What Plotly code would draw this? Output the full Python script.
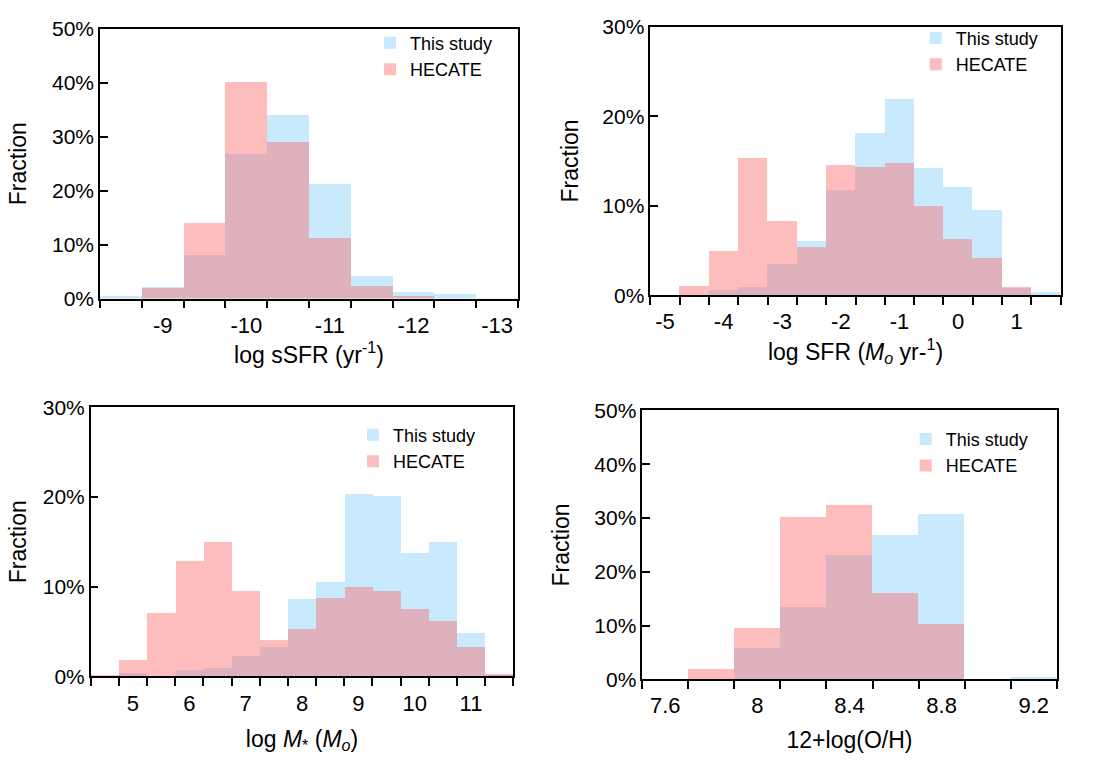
import plotly.graph_objects as go

# ---------------- data (percent of sample per bin) ----------------
ssfr_centers = [-8.5, -9, -9.5, -10, -10.5, -11, -11.5, -12, -12.5, -13]
ssfr_this = [0.5, 2.2, 8.1, 26.9, 34.0, 21.2, 4.2, 1.3, 0.9, 0.2]
ssfr_hecate = [0, 1.9, 14.1, 40.2, 29.0, 11.3, 2.4, 0.5, 0, 0]
ssfr_ticks = [-9, -10, -11, -12, -13]

sfr_centers = [-5, -4.5, -4, -3.5, -3, -2.5, -2, -1.5, -1, -0.5, 0, 0.5, 1, 1.5]
sfr_this = [0, 0, 0.7, 1.0, 3.5, 6.1, 11.8, 18.2, 22.0, 14.3, 12.1, 9.6, 0.9, 0.4]
sfr_hecate = [0, 1.1, 5.0, 15.4, 8.4, 5.4, 14.6, 14.4, 14.8, 10.0, 6.3, 4.2, 1.0, 0]
sfr_ticks = [-5, -4, -3, -2, -1, 0, 1]

mass_centers = [4.5, 5, 5.5, 6, 6.5, 7, 7.5, 8, 8.5, 9, 9.5, 10, 10.5, 11, 11.5]
mass_this = [0, 0.35, 0, 0.65, 0.95, 2.2, 3.3, 8.6, 10.5, 20.3, 20.1, 13.7, 15.0, 4.8, 0.1]
mass_hecate = [0.15, 1.8, 7.0, 12.8, 15.0, 9.5, 4.0, 5.3, 8.7, 9.9, 9.5, 7.5, 6.2, 3.2, 0.25]
mass_ticks = [5, 6, 7, 8, 9, 10, 11]

oh_centers = [7.6, 7.8, 8.0, 8.2, 8.4, 8.6, 8.8, 9.0, 9.2]
oh_this = [0, 0, 5.8, 13.4, 23.0, 26.8, 30.7, 0, 0.4]
oh_hecate = [0, 1.9, 9.4, 30.1, 32.4, 16.0, 10.1, 0, 0]
oh_ticks = [7.6, 8.0, 8.4, 8.8, 9.2]
oh_ticktext = ["7.6", "8", "8.4", "8.8", "9.2"]

series_names = ["This study", "HECATE"]

# ---------------- style ----------------
W, H = 1095, 774
FONT = "Liberation Sans, Arial, Helvetica, sans-serif"
BLUE = "rgba(135,206,250,0.45)"
RED = "rgba(250,108,108,0.45)"

panels = [
    dict(centers=ssfr_centers, a=ssfr_this, b=ssfr_hecate, width=0.5,
         xrange=[-8.25, -13.25], tickvals=ssfr_ticks, ticktext=[str(t) for t in ssfr_ticks],
         yrange=[0, 50], xtitle="log sSFR (yr<sup>-1</sup>)",
         box=(100, 518, 17.3, 295.3), leg=(396, 29), ystand=19, xstand=10),
    dict(centers=sfr_centers, a=sfr_this, b=sfr_hecate, width=0.5,
         xrange=[-5.25, 1.75], tickvals=sfr_ticks, ticktext=[str(t) for t in sfr_ticks],
         yrange=[0, 30], xtitle="log SFR (<i>M<sub>o</sub></i> yr-<sup>1</sup>)",
         box=(650.3, 1060.7, 15, 292), leg=(941.7, 24), ystand=17, xstand=10),
    dict(centers=mass_centers, a=mass_this, b=mass_hecate, width=0.5,
         xrange=[4.25, 11.75], tickvals=mass_ticks, ticktext=[str(t) for t in mass_ticks],
         yrange=[0, 30], xtitle="log <i>M</i><sub>*</sub> (<i>M<sub>o</sub></i>)",
         box=(90.7, 513.3, 407.3, 684.7), leg=(379, 433), ystand=10, xstand=16),
    dict(centers=oh_centers, a=oh_this, b=oh_hecate, width=0.2,
         xrange=[7.5, 9.3], tickvals=oh_ticks, ticktext=oh_ticktext,
         yrange=[0, 50], xtitle="12+log(O/H)",
         box=(642.3, 1056.7, 410.7, 687.7), leg=(931.7, 437.3), ystand=18, xstand=14),
]

fig = go.Figure()
layout = dict(
    width=W, height=H, margin=dict(l=0, r=0, t=0, b=0),
    paper_bgcolor="white", plot_bgcolor="white",
    font=dict(family=FONT, color="black", size=20),
    barmode="overlay", bargap=0,
)

for i, p in enumerate(panels):
    n = "" if i == 0 else str(i + 1)
    xa, ya = "x" + n, "y" + n
    lg = "legend" + n
    for vals, name, col in [(p["a"], series_names[0], BLUE), (p["b"], series_names[1], RED)]:
        fig.add_trace(go.Bar(
            x=p["centers"], y=vals, width=p["width"], name=name,
            marker=dict(color=col, line=dict(width=0)),
            xaxis=xa, yaxis=ya, legend=lg, showlegend=True,
        ))
    x0, x1, y0, y1 = p["box"]
    layout["xaxis" + n] = dict(
        domain=[x0 / W, x1 / W], anchor=ya, range=p["xrange"],
        tickmode="array", tickvals=p["tickvals"], ticktext=p["ticktext"],
        ticks="outside", ticklen=6, tickcolor="rgba(0,0,0,0)",
        minor=dict(ticks="outside", tickmode="linear", tick0=p["xrange"][0],
                   dtick=p["width"], ticklen=8, tickwidth=2, tickcolor="black", showgrid=False),
        showline=True, linecolor="black", linewidth=1.5, mirror=True,
        showgrid=False, zeroline=False,
        tickfont=dict(size=22),
        title=dict(text=p["xtitle"], font=dict(size=23), standoff=p["xstand"]),
    )
    layout["yaxis" + n] = dict(
        domain=[1 - y1 / H, 1 - y0 / H], anchor=xa, range=p["yrange"],
        tickmode="linear", tick0=0, dtick=10, ticksuffix="%",
        ticks="inside", ticklen=8, tickwidth=2, tickcolor="black",
        showline=True, linecolor="black", linewidth=1.5, mirror=True,
        showgrid=False, zeroline=False,
        tickfont=dict(size=21),
        title=dict(text="Fraction", font=dict(size=23), standoff=p["ystand"]),
    )
    lx, ly = p["leg"]
    layout[lg] = dict(
        x=(lx - 26) / W, y=1 - (ly - 16) / H, xanchor="left", yanchor="top",
        bgcolor="rgba(0,0,0,0)", borderwidth=0,
        font=dict(size=18, family=FONT, color="black"),
        traceorder="normal", itemwidth=30, tracegroupgap=0,
    )

fig.update_layout(**layout)
fig.write_html("out.html")
